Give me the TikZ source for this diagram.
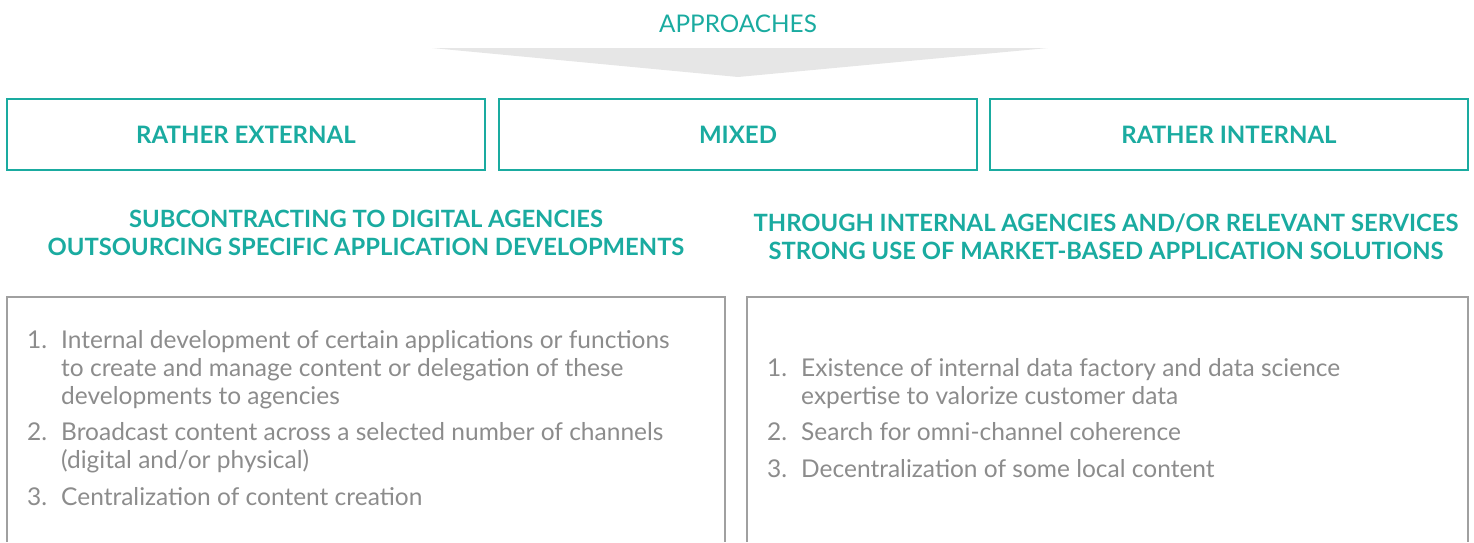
\documentclass[tikz,border=0pt]{standalone}
\usepackage{fontspec}
\setmainfont{Lato}
\definecolor{teal1}{HTML}{1AABA0}
\definecolor{txtgray}{HTML}{8C8C8C}
\definecolor{boxgray}{HTML}{A0A0A0}
\definecolor{arrowgray}{HTML}{E6E6E6}

\begin{document}
\begin{tikzpicture}[x=1pt,y=-1pt,
  head/.style={text=teal1,font=\fontsize{23.8}{28}\selectfont\bfseries,anchor=base,inner sep=0pt},
  choice/.style={draw=teal1,line width=2pt,text=teal1,font=\fontsize{24}{28}\selectfont\bfseries,
    minimum width=478pt,minimum height=71pt},
  panel/.style={draw=boxgray,line width=1.5pt},
  item/.style={text=txtgray,font=\fontsize{24.5}{28}\selectfont,anchor=base west,inner sep=0pt}]
\useasboundingbox (0,0) rectangle (1474,542);

% title and the wide arrow under it
\node[head,font=\fontsize{24.3}{28}\selectfont] (appr) at (738,32) {APPROACHES};
\fill[arrowgray] (432,48) -- (1048,48) -- (738,77) -- cycle;

% the three approaches
\node[choice] (ext) at (246,134.5) {RATHER EXTERNAL};
\node[choice] (mix) at (738,134.5) {MIXED};
\node[choice] (int) at (1229,134.5) {RATHER INTERNAL};

% sub headings
\node[head] (sub1) at (366,227) {SUBCONTRACTING TO DIGITAL AGENCIES};
\node[head] (sub2) at (366,255) {OUTSOURCING SPECIFIC APPLICATION DEVELOPMENTS};
\node[head] (sub3) at (1106,231) {THROUGH INTERNAL AGENCIES AND/OR RELEVANT SERVICES};
\node[head] (sub4) at (1106,259) {STRONG USE OF MARKET-BASED APPLICATION SOLUTIONS};

% open panels, they run off the bottom
\draw[panel] (7,542) |- (725,297) -- (725,542);
\draw[panel] (747,542) |- (1468,297) -- (1468,542);

% left list
\node[item] (n1) at (27,348) {1.};
\node[item] (l1a) at (61,348) {Internal development of certain applications or functions};
\node[item] (l1b) at (61,376) {to create and manage content or delegation of these};
\node[item] (l1c) at (61,404) {developments to agencies};
\node[item] (n2) at (27,440) {2.};
\node[item] (l2a) at (61,440) {Broadcast content across a selected number of channels};
\node[item] (l2b) at (61,468) {(digital and/or physical)};
\node[item] (n3) at (27,505) {3.};
\node[item] (l3a) at (61,505) {Centralization of content creation};

% right list
\node[item] (m1) at (767,376) {1.};
\node[item] (r1a) at (801,376) {Existence of internal data factory and data science};
\node[item] (r1b) at (801,404) {expertise to valorize customer data};
\node[item] (m2) at (767,440) {2.};
\node[item] (r2a) at (801,440) {Search for omni-channel coherence};
\node[item] (m3) at (767,477) {3.};
\node[item] (r3a) at (801,477) {Decentralization of some local content};
\end{tikzpicture}
\end{document}
